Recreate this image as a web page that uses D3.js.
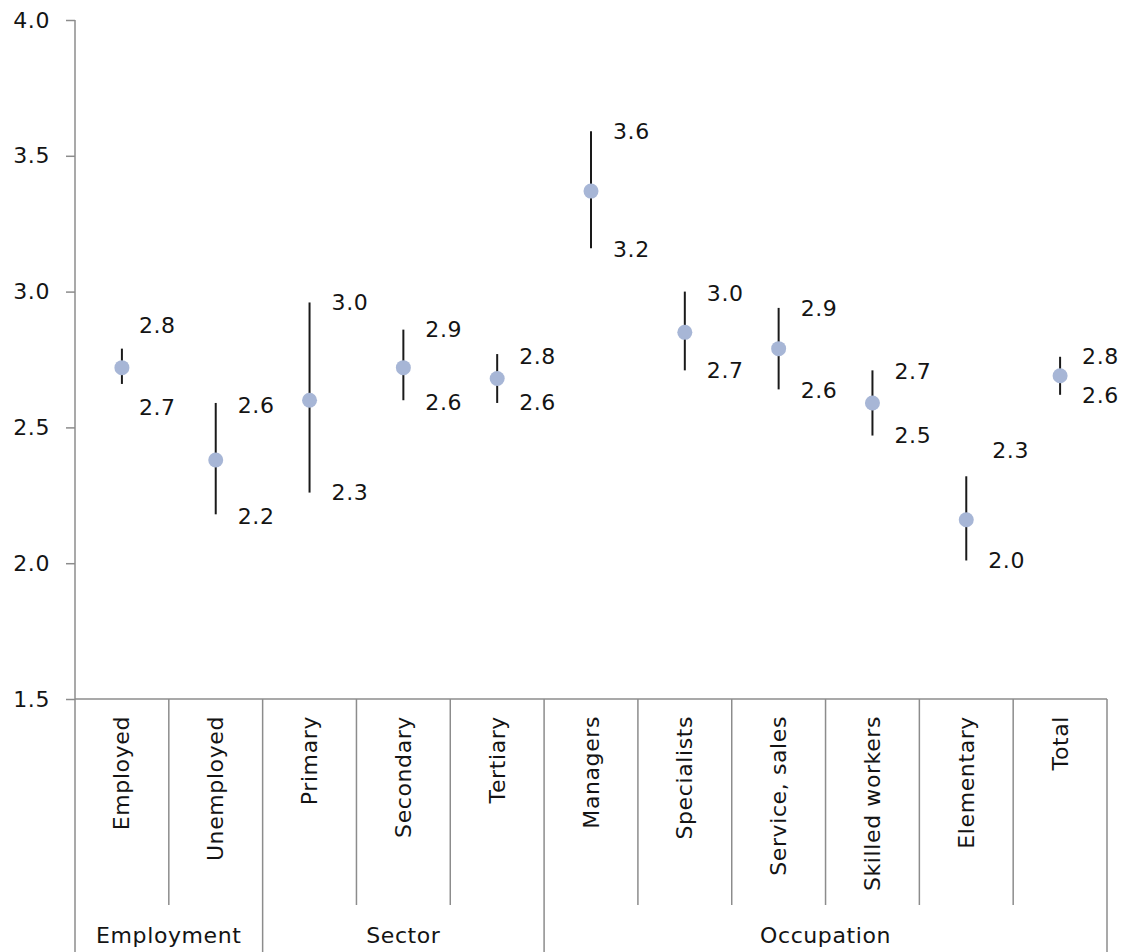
<!DOCTYPE html>
<html>
<head>
<meta charset="utf-8">
<script src="https://cdn.jsdelivr.net/npm/d3@7"></script>
<style>
  html, body { margin: 0; padding: 0; background: #fff; }
  svg { display: block; font-family: "DejaVu Sans", Verdana, sans-serif; }
  svg text { letter-spacing: 0.6px; }
</style>
</head>
<body>
<svg id="chart" width="1125" height="952"></svg>
<script>
// ---- data ----
const categories = ["Employed", "Unemployed", "Primary", "Secondary", "Tertiary",
  "Managers", "Specialists", "Service, sales", "Skilled workers", "Elementary", "Total"];
const means = [2.72, 2.38, 2.60, 2.72, 2.68, 3.37, 2.85, 2.79, 2.59, 2.16, 2.69];
const lows  = [2.66, 2.18, 2.26, 2.60, 2.59, 3.16, 2.71, 2.64, 2.47, 2.01, 2.62];
const highs = [2.79, 2.59, 2.96, 2.86, 2.77, 3.59, 3.00, 2.94, 2.71, 2.32, 2.76];
const groups = ["Employment", "Sector", "Occupation"];
const groupSizes = [2, 3, 6];
const yTicks = [1.5, 2.0, 2.5, 3.0, 3.5, 4.0];

// ---- layout (label nudges in px, not data) ----
const hiNudge = [-23, 3, 0, 0, 2, 0, 2, 1, 1, -26, 0];
const loNudge = [24, 2, 0, 2, 0, 1, 0, 1, 0, 0, 1];
const labelDx = [17, 22, 22, 22, 22, 22, 22, 22, 22, 22, 22];
const hiDxExtra = [0, 0, 0, 0, 0, 0, 0, 0, 0, 4, 0];

const svg = d3.select("#chart");
const x = d3.scaleBand().domain(categories).range([75, 1107]).padding(0);
const y = d3.scaleLinear().domain([1.5, 4.0]).range([699, 20]);
const axisColor = "#8c8c8c";
const textColor = "#141414";
const fs = 22;

// y axis
const yAxis = d3.axisLeft(y).tickValues(yTicks).tickFormat(d3.format(".1f")).tickSize(9).tickPadding(16);
const yg = svg.append("g").attr("transform", "translate(75,0)").call(yAxis);
yg.select(".domain").remove();
yg.selectAll(".tick line").attr("stroke", axisColor).attr("stroke-width", 1.5);
yg.selectAll(".tick text").attr("fill", textColor).style("font-size", fs + "px")
  .style("font-family", "'DejaVu Sans', Verdana, sans-serif");
svg.append("line").attr("x1", 75).attr("x2", 75).attr("y1", y(4.0)).attr("y2", 952)
  .attr("stroke", axisColor).attr("stroke-width", 1.5);
// x axis line
svg.append("line").attr("x1", 75).attr("x2", x.range()[1]).attr("y1", y(1.5)).attr("y2", y(1.5))
  .attr("stroke", axisColor).attr("stroke-width", 1.5);

// separators
const groupStarts = [];
let acc = 0;
groupSizes.forEach(s => { groupStarts.push(acc); acc += s; });
const groupEndIdx = new Set(groupStarts.map((s, i) => s + groupSizes[i]));
categories.forEach((c, i) => {
  if (i === 0) return;
  const xx = x(c);
  const isGroup = groupEndIdx.has(i);
  svg.append("line").attr("x1", xx).attr("x2", xx).attr("y1", y(1.5))
    .attr("y2", isGroup ? 952 : 905).attr("stroke", axisColor).attr("stroke-width", 1.5);
});
svg.append("line").attr("x1", x.range()[1]).attr("x2", x.range()[1]).attr("y1", y(1.5))
  .attr("y2", 952).attr("stroke", axisColor).attr("stroke-width", 1.5);

// category labels
svg.append("g").selectAll("text").data(categories).join("text")
  .attr("transform", d => `translate(${x(d) + x.bandwidth() / 2},716) rotate(-90)`)
  .attr("text-anchor", "end").attr("dominant-baseline", "central")
  .attr("fill", textColor).style("font-size", fs + "px").text(d => d);

// group labels
groups.forEach((g, i) => {
  const a = x(categories[groupStarts[i]]);
  const lastCat = categories[groupStarts[i] + groupSizes[i] - 1];
  const b = x(lastCat) + x.bandwidth();
  svg.append("text").attr("x", (a + b) / 2).attr("y", 943).attr("text-anchor", "middle")
    .attr("fill", textColor).style("font-size", fs + "px").text(g);
});

// whiskers
const cx = i => x(categories[i]) + x.bandwidth() / 2;
const idx = d3.range(categories.length);
svg.append("g").selectAll("line").data(idx).join("line")
  .attr("x1", cx).attr("x2", cx).attr("y1", i => y(highs[i])).attr("y2", i => y(lows[i]))
  .attr("stroke", "#1a1a1a").attr("stroke-width", 2);
// dots
svg.append("g").selectAll("circle").data(idx).join("circle")
  .attr("cx", cx).attr("cy", i => y(means[i])).attr("r", 7.5).attr("fill", "#a7b6d6");
// labels
const fmt = d3.format(".1f");
svg.append("g").selectAll("text").data(idx).join("text")
  .attr("x", i => cx(i) + labelDx[i] + hiDxExtra[i]).attr("y", i => y(highs[i]) + hiNudge[i])
  .attr("dominant-baseline", "central").attr("fill", textColor).style("font-size", fs + "px")
  .text(i => fmt(highs[i]));
svg.append("g").selectAll("text").data(idx).join("text")
  .attr("x", i => cx(i) + labelDx[i]).attr("y", i => y(lows[i]) + loNudge[i])
  .attr("dominant-baseline", "central").attr("fill", textColor).style("font-size", fs + "px")
  .text(i => fmt(lows[i]));
</script>
</body>
</html>
